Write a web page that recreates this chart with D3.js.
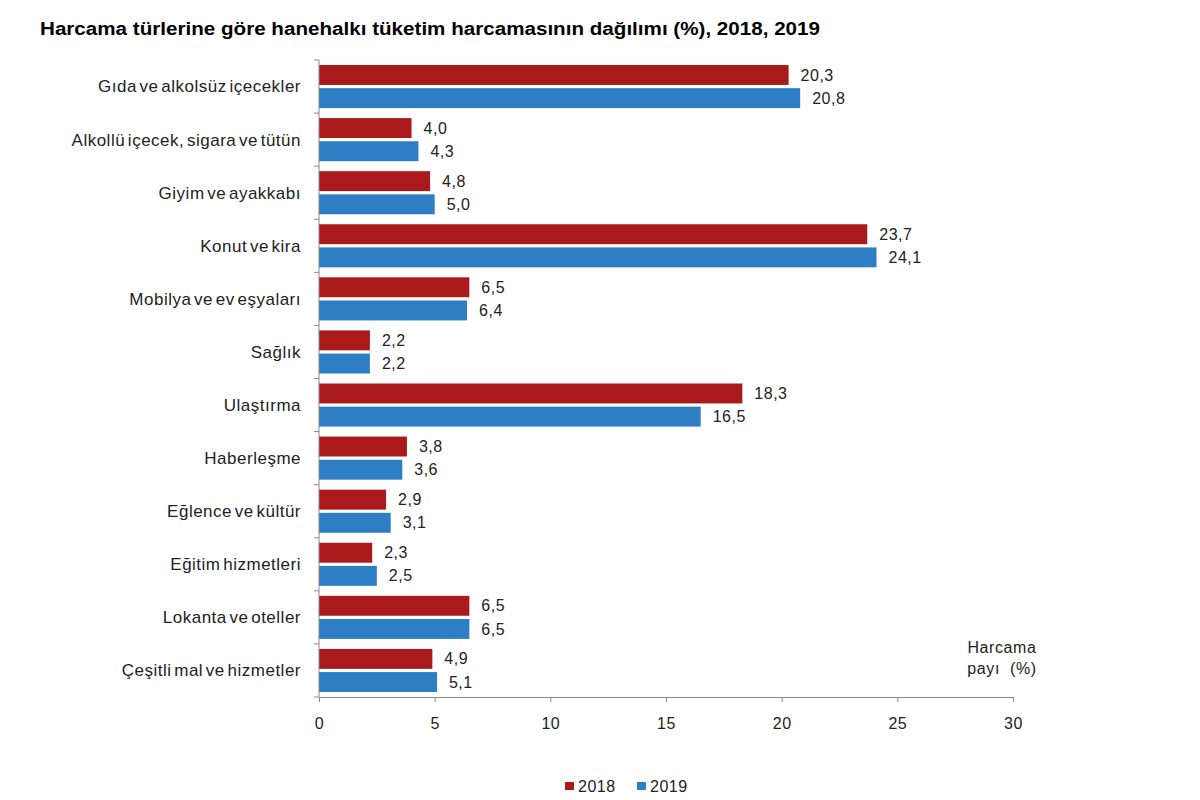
<!DOCTYPE html>
<html>
<head>
<meta charset="utf-8">
<script src="https://cdn.jsdelivr.net/npm/d3@7"></script>
<style>
    body { margin: 0; background: #fff; }
    text { font-family: "Liberation Sans", Arial, sans-serif; }
</style>
</head>
<body>
<div id="chart"></div>
<script>
const categories = [
    "Gıda ve alkolsüz içecekler",
    "Alkollü içecek, sigara ve tütün",
    "Giyim ve ayakkabı",
    "Konut ve kira",
    "Mobilya ve ev eşyaları",
    "Sağlık",
    "Ulaştırma",
    "Haberleşme",
    "Eğlence ve kültür",
    "Eğitim hizmetleri",
    "Lokanta ve oteller",
    "Çeşitli mal ve hizmetler"
];
const years = ["2018", "2019"];
const values2018 = [20.3, 4.0, 4.8, 23.7, 6.5, 2.2, 18.3, 3.8, 2.9, 2.3, 6.5, 4.9];
const values2019 = [20.8, 4.3, 5.0, 24.1, 6.4, 2.2, 16.5, 3.6, 3.1, 2.5, 6.5, 5.1];
const xTicks = [0, 5, 10, 15, 20, 25, 30];

const colors = { "2018": "#AA1A1A", "2019": "#2E7EC5" };

const width = 1200, height = 800;
const margin = { top: 60, right: 187, bottom: 103, left: 319 };
const plotW = width - margin.left - margin.right;
const plotH = height - margin.top - margin.bottom;

const svg = d3.select("#chart").append("svg")
    .attr("width", width)
    .attr("height", height);

// Title
svg.append("text")
    .attr("x", 40)
    .attr("y", 35)
    .attr("font-size", 18)
    .attr("font-weight", "bold")
    .attr("fill", "#000")
    .attr("textLength", 780)
    .attr("lengthAdjust", "spacingAndGlyphs")
    .text("Harcama türlerine göre hanehalkı tüketim harcamasının dağılımı (%), 2018, 2019");

const g = svg.append("g")
    .attr("transform", `translate(${margin.left},${margin.top})`);

const x = d3.scaleLinear().domain([0, 30]).range([0, plotW]);
const y = d3.scaleBand().domain(categories).range([0, plotH]);
const inner = d3.scaleBand().domain(years).range([5, y.bandwidth() - 5]).paddingInner(0.14);

const rows = categories.map((c, i) => ({ cat: c, "2018": values2018[i], "2019": values2019[i] }));

// Bars
const rowG = g.selectAll(".row")
    .data(rows)
    .enter().append("g")
    .attr("transform", d => `translate(0,${y(d.cat)})`);

years.forEach(yr => {
    rowG.append("rect")
        .attr("x", 0)
        .attr("y", inner(yr))
        .attr("width", d => x(d[yr]))
        .attr("height", inner.bandwidth())
        .attr("fill", colors[yr]);

    rowG.append("text")
        .attr("x", d => x(d[yr]) + 12)
        .attr("y", inner(yr) + inner.bandwidth() / 2)
        .attr("dy", "0.35em")
        .attr("font-size", 16)
        .attr("letter-spacing", "0.5px")
        .attr("fill", "#222")
        .text(d => d3.format(".1f")(d[yr]).replace(".", ","));
});

// Y axis: line with ticks at band boundaries
g.append("line")
    .attr("x1", 0).attr("x2", 0)
    .attr("y1", 0).attr("y2", plotH)
    .attr("stroke", "#888");
d3.range(categories.length + 1).forEach(i => {
    g.append("line")
        .attr("x1", -5).attr("x2", 0)
        .attr("y1", i * y.step()).attr("y2", i * y.step())
        .attr("stroke", "#888");
});

// Category labels
g.selectAll(".cat")
    .data(categories)
    .enter().append("text")
    .attr("x", -18)
    .attr("y", d => y(d) + y.bandwidth() / 2)
    .attr("dy", "0.35em")
    .attr("text-anchor", "end")
    .attr("font-size", 17)
    .attr("letter-spacing", "0.5px")
    .attr("word-spacing", "-2.5px")
    .attr("fill", "#222")
    .text(d => d);

// X axis
const xAxis = g.append("g")
    .attr("transform", `translate(0,${plotH})`)
    .call(d3.axisBottom(x).tickValues(xTicks).tickSize(5).tickPadding(16).tickSizeOuter(0));
xAxis.select(".domain").attr("stroke", "#888");
xAxis.selectAll(".tick line").attr("stroke", "#888");
xAxis.selectAll(".tick text")
    .attr("font-size", 16)
    .attr("letter-spacing", "0.5px")
    .attr("fill", "#222")
    .attr("font-family", "Liberation Sans, Arial, sans-serif");

// Axis unit label
const unit = svg.append("text")
    .attr("text-anchor", "middle")
    .attr("font-size", 16)
    .attr("letter-spacing", "0.6px")
    .attr("fill", "#222");
unit.append("tspan").attr("x", 1002).attr("y", 653).text("Harcama");
unit.append("tspan").attr("x", 1002).attr("y", 674).attr("xml:space", "preserve").text("payı  (%)");

// Legend
const legend = svg.append("g").attr("transform", "translate(565,786)");
years.forEach((yr, i) => {
    const lg = legend.append("g").attr("transform", `translate(${i * 72},0)`);
    lg.append("rect")
        .attr("x", 0).attr("y", -4)
        .attr("width", 9).attr("height", 8)
        .attr("fill", colors[yr]);
    lg.append("text")
        .attr("x", 13).attr("y", 0)
        .attr("dy", "0.35em")
        .attr("font-size", 16)
        .attr("letter-spacing", "0.5px")
        .attr("fill", "#222")
        .text(yr);
});
</script>
</body>
</html>
